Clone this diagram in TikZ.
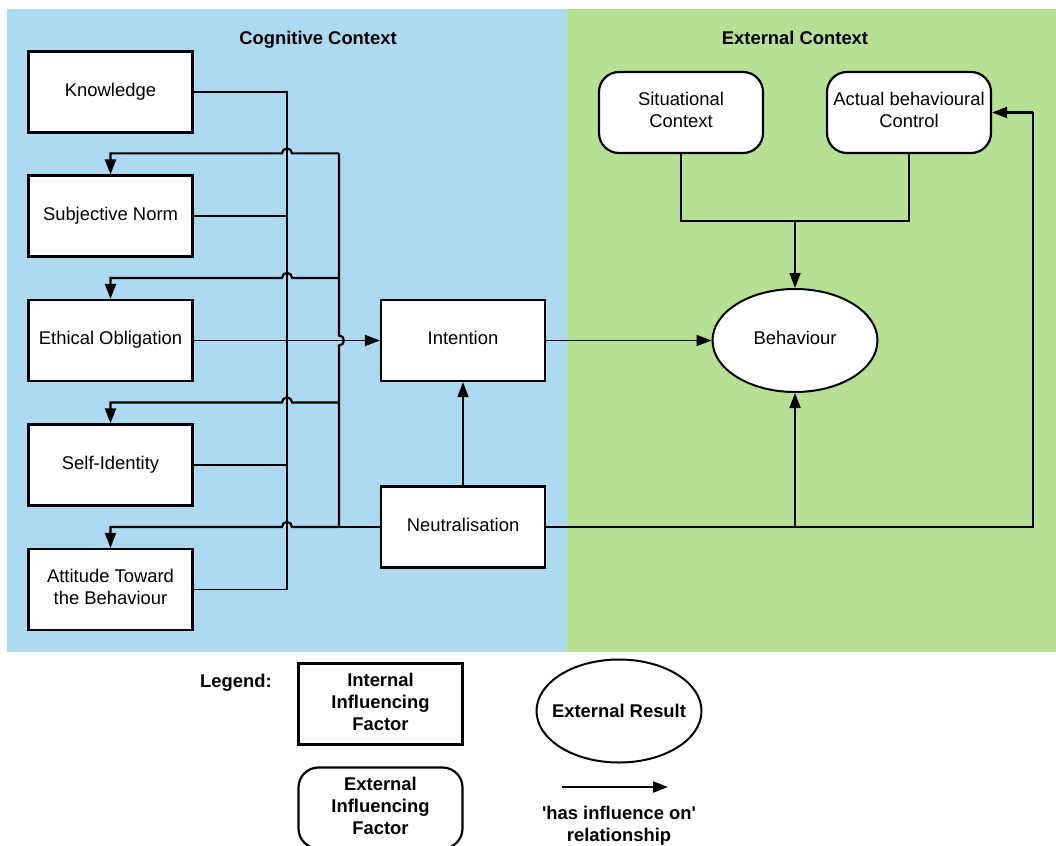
\documentclass[tikz,border=0pt]{standalone}
\usepackage{fontspec}
\setmainfont{Liberation Sans}[Ligatures=TeXOff]
\usetikzlibrary{shapes.geometric,arrows.meta,calc}
\definecolor{cogblue}{RGB}{173,218,242}
\definecolor{extgreen}{RGB}{182,224,148}
\begin{document}
\begin{tikzpicture}[x=1pt,y=1pt,
  every node/.style={font=\fontsize{18.4}{22}\selectfont, align=center},
  oneline/.style={text height=13.2pt, text depth=5pt},
  multiline/.style={text depth=5pt},
  factor/.style={draw, fill=white, line width=2.2pt, minimum width=164pt, minimum height=81pt, inner sep=0pt},
  extfactor/.style={factor, rounded corners=20pt},
  result/.style={draw, fill=white, ellipse, line width=2pt, minimum width=165pt, minimum height=103pt, inner sep=0pt},
  link/.style={line width=1.7pt},
  nlink/.style={line width=2.2pt},
  tip/.style={-{Triangle[length=15pt,width=11pt]}},
  title/.style={font=\fontsize{18.4}{22}\selectfont\bfseries}
]
\useasboundingbox (0,0) rectangle (1056,-845);
\clip (0,0) rectangle (1056,-845);

% context panels
\fill[cogblue] (7,-9) rectangle (567,-652);
\fill[extgreen] (567,-9) rectangle (1056,-652);
\node[title,oneline] (cogtitle) at (318,-40.5) {Cognitive Context};
\node[title,oneline] (exttitle) at (795,-40.5) {External Context};

% internal factors
\node[factor,oneline] (know) at (110.5,-92)    {Knowledge};
\node[factor,oneline] (subj) at (110.5,-216)   {Subjective Norm};
\node[factor,oneline] (eth)  at (110.5,-340.5) {Ethical Obligation};
\node[factor,oneline] (self) at (110.5,-465)   {Self-Identity};
\node[factor,multiline] (att)  at (110.5,-589.5) {Attitude Toward\\the Behaviour};
\node[factor,oneline] (int)  at (463,-340.5)   {Intention};
\node[factor,oneline] (neut) at (463,-527)     {Neutralisation};

% external factors and result
\node[extfactor,multiline] (situ) at (681,-112.5) {Situational\\Context};
\node[extfactor,multiline] (acb)  at (909,-112.5) {Actual behavioural\\Control};
\node[result,oneline] (beh) at (795,-340.5) {Behaviour};

% bus lines
\coordinate (busL) at (287,0);
\coordinate (busR) at (339,0);
\coordinate (busE) at (1033,0);

% cognitive factors feeding intention
\draw[link] (know.east) -- (busL |- know.east) -- (busL |- att.east) -- (att.east);
\draw[link] (subj.east) -- (busL |- subj.east);
\draw[link] (self.east) -- (busL |- self.east);
\draw[link,tip] (eth.east) -- (int.west);

% neutralisation feeding back into the cognitive factors
\draw[nlink] (neut.west) -- (busR |- neut.west);
\foreach \t in {subj,eth,self,att} {
  \coordinate (c) at ($(\t.north)+(0,21)$);
  \draw[nlink,tip] (busR |- c) -- ($(busL |- c)+(5,0)$)
    arc[start angle=0,end angle=180,radius=5pt] -- (c) -- (\t.north);
}
\coordinate (ctop) at ($(subj.north)+(0,21)$);
\draw[nlink] (busR |- ctop) -- ($(busR |- eth.east)+(0,5)$)
  arc[start angle=90,end angle=-90,radius=5pt] -- (busR |- neut.west);

\draw[link,tip] (neut.north) -- (int.south);
\draw[link,tip] (int.east) -- (beh.west);

% neutralisation towards behaviour and behavioural control
\draw[nlink] (neut.east) -- (busE |- neut.east) -- (busE |- acb.east);
\draw[nlink,tip] (busE |- acb.east) -- (acb.east);
\draw[link,tip] (beh.south |- neut.east) -- (beh.south);

% external context joining into behaviour
\coordinate (join) at (795,-221);
\draw[link] (situ.south) |- (join) -| (acb.south);
\draw[link,tip] (join) -- (beh.north);

% legend
\node[title] (leg) at (236,-683) {Legend:};
\node[factor, multiline, font=\fontsize{18.4}{22}\selectfont\bfseries] (legint) at (380.5,-704) {Internal\\Influencing\\Factor};
\node[extfactor, multiline, font=\fontsize{18.4}{22}\selectfont\bfseries] (legext) at (380.5,-808) {External\\Influencing\\Factor};
\node[result, font=\fontsize{18.4}{22}\selectfont\bfseries] (legres) at (619,-711) {\makebox[0pt]{External Result}};
\coordinate (lega) at (562,-787);
\coordinate (legb) at (668,-787);
\draw[nlink,tip] (lega) -- (legb);
\node[title] (legrel) at (619,-825.5) {'has influence on'\\relationship};
\end{tikzpicture}
\end{document}
